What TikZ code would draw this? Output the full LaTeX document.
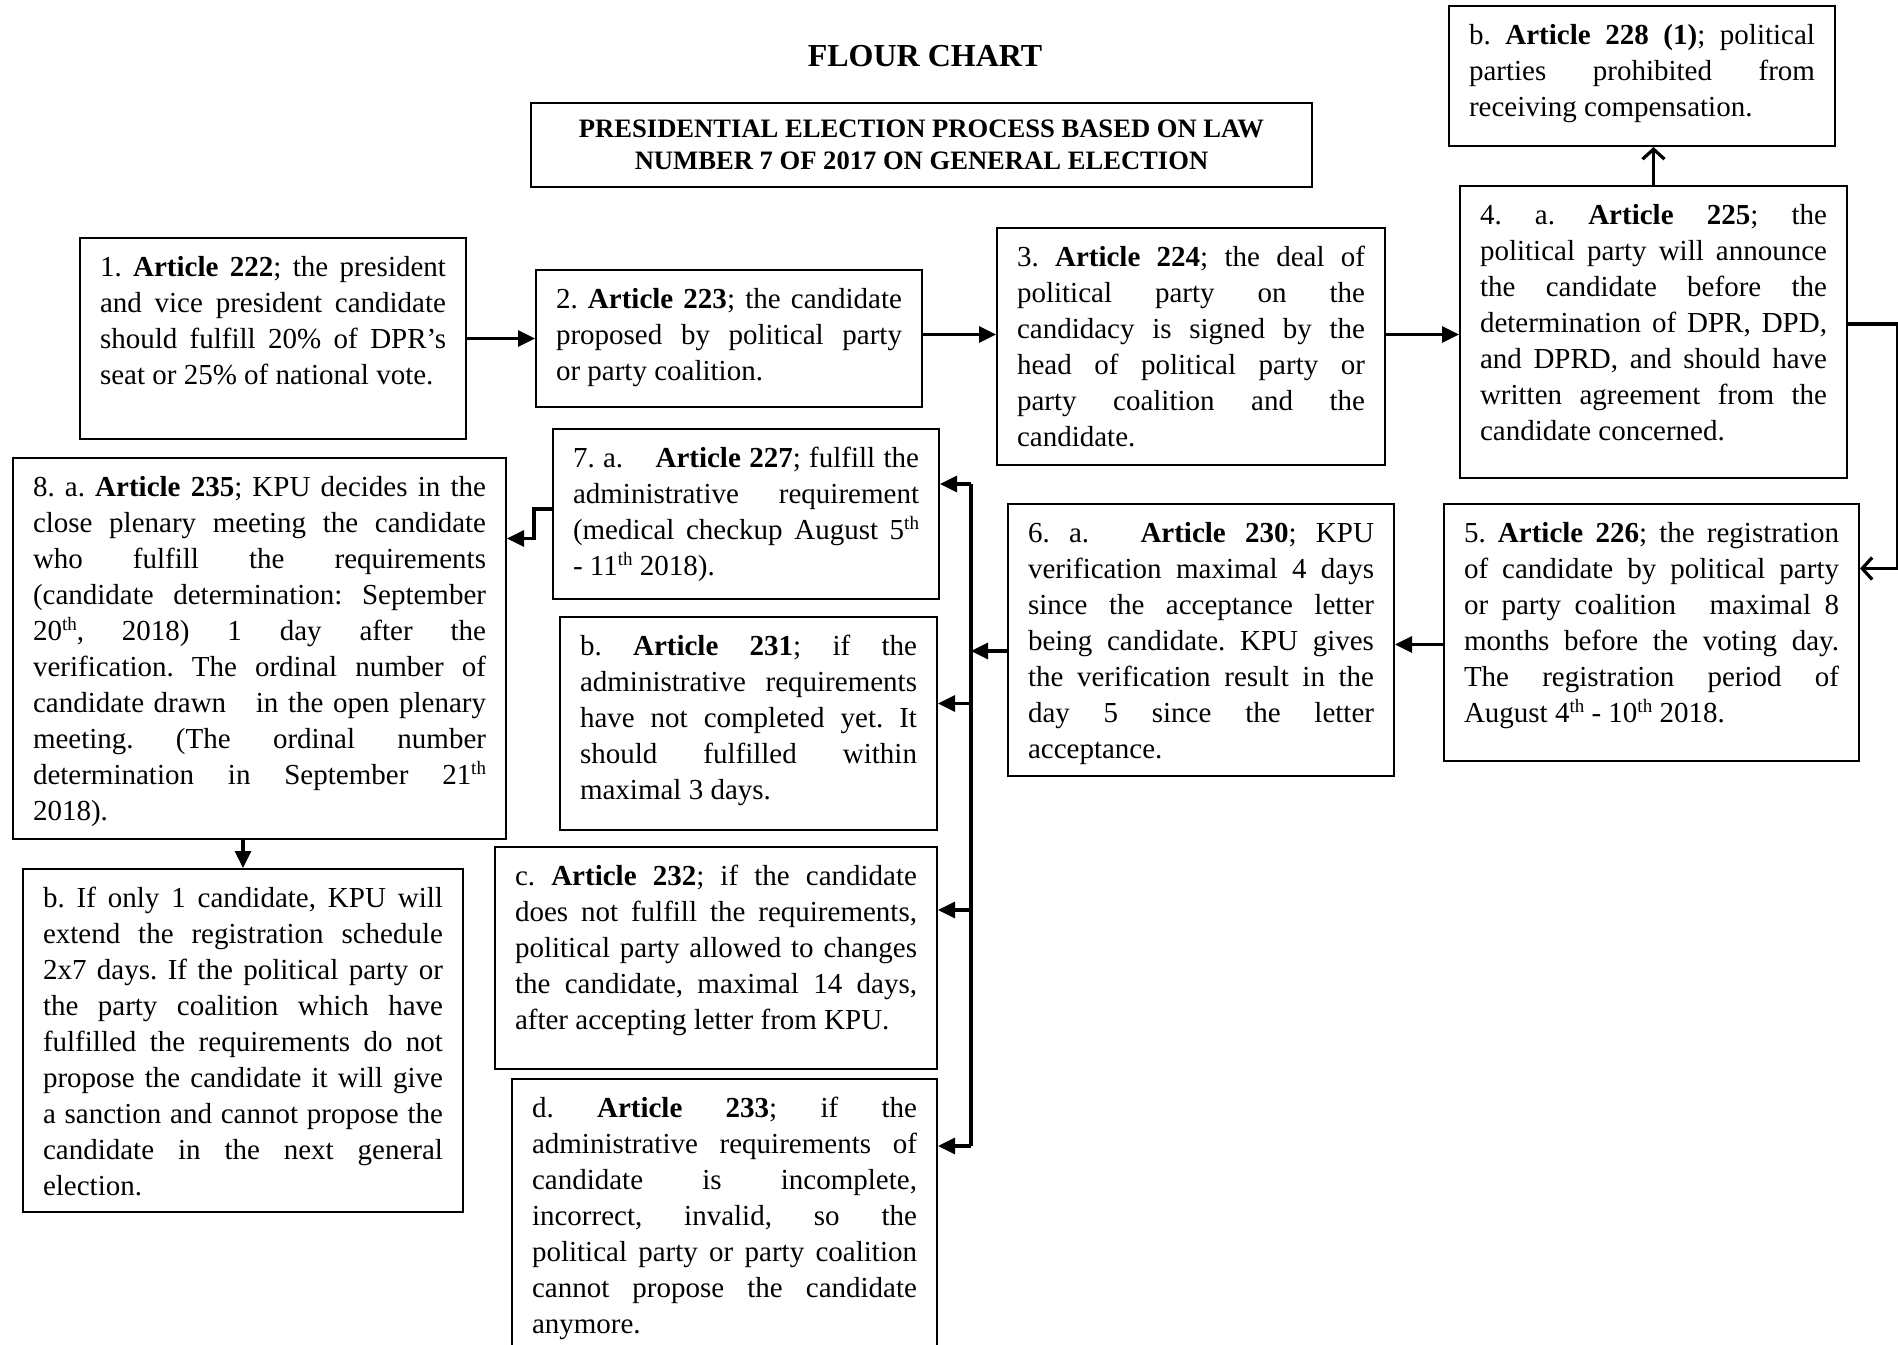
\documentclass[tikz,border=0pt]{standalone}
\usepackage{fontspec}
\setmainfont{Liberation Serif}
\usetikzlibrary{arrows.meta}
\tolerance=10000
\hbadness=10000
\frenchspacing
\newcommand{\ordsup}[1]{\raisebox{0.33em}{\fontsize{9.5}{9.5}\selectfont #1}}

\tikzstyle{article}=[draw,line width=1pt,rectangle,anchor=north west,align=justify,inner xsep=10pt,inner ysep=0pt,text height=19pt,font=\fontsize{14.5}{18}\selectfont]
\tikzstyle{lawbox}=[draw,line width=1.2pt,rectangle,align=center,minimum width=390.5pt,minimum height=42pt,font=\bfseries\fontsize{13.3}{16}\selectfont]
\tikzstyle{link}=[line width=1.6pt]
\tikzstyle{arr}=[line width=1.6pt,-{Triangle[length=8.5pt,width=8pt]}]
\tikzstyle{barb}=[line width=1.6pt,-{Straight Barb[length=5pt,width=11pt]}]

\begin{document}
\frenchspacing
\begin{tikzpicture}[x=0.5pt,y=-0.5pt]
  \useasboundingbox (0,0) rectangle (1898,1344);
  \node[font=\bfseries\fontsize{16}{19}\selectfont] (title) at (925,56) {FLOUR CHART};
  \node[lawbox] (law) at (921.5,145) {PRESIDENTIAL ELECTION PROCESS BASED ON LAW\\NUMBER 7 OF 2017 ON GENERAL ELECTION};

  \node[article,text width=173pt,text depth=81.5pt] (art222) at (79,237) {1. \textbf{Article 222}; the president\linebreak and vice president candidate\linebreak should fulfill 20\% of DPR’s\linebreak seat or 25\% of national vote.};
  \node[article,text width=173pt,text depth=49.5pt] (art223) at (535,269) {2. \textbf{Article 223}; the candidate\linebreak proposed by political party\linebreak or party coalition.};
  \node[article,text width=174pt,text depth=99.5pt] (art224) at (996,227) {3. \textbf{Article 224}; the deal of\linebreak political party on the\linebreak candidacy is signed by the\linebreak head of political party or\linebreak party coalition and the\linebreak candidate.};
  \node[article,text width=173.5pt,text depth=127pt] (art225) at (1459,185) {4. a. \textbf{Article 225}; the\linebreak political party will announce\linebreak the candidate before the\linebreak determination of DPR, DPD,\linebreak and DPRD, and should have\linebreak written agreement from the\linebreak candidate concerned.};
  \node[article,text width=173pt,text depth=51pt] (art228) at (1448,5) {b. \textbf{Article 228 (1)}; political\linebreak parties prohibited from\linebreak receiving compensation.};
  \node[article,text width=187.5pt,text depth=109.5pt] (art226) at (1443,503) {5. \textbf{Article 226}; the registration\linebreak of candidate by political party\linebreak or party coalition\hspace{10pt} maximal 8\linebreak months before the voting day.\linebreak The registration period of\linebreak August 4\ordsup{th} - 10\ordsup{th} 2018.};
  \node[article,text width=173pt,text depth=117pt] (art230) at (1007,503) {6. a.\hspace{16pt} \textbf{Article 230}; KPU\linebreak verification maximal 4 days\linebreak since the acceptance letter\linebreak being candidate. KPU gives\linebreak the verification result in the\linebreak day 5 since the letter\linebreak acceptance.};
  \node[article,text width=173pt,text depth=66pt] (art227) at (552,428) {7. a.\hspace{12pt} \textbf{Article 227}; fulfill the\linebreak administrative requirement\linebreak (medical checkup August 5\ordsup{th}\linebreak - 11\ordsup{th} 2018).};
  \node[article,text width=168.5pt,text depth=87.5pt] (art231) at (559,616) {b. \textbf{Article 231}; if the\linebreak administrative requirements\linebreak have not completed yet. It\linebreak should fulfilled within\linebreak maximal 3 days.};
  \node[article,text width=201pt,text depth=92pt] (art232) at (494,846) {c. \textbf{Article 232}; if the candidate\linebreak does not fulfill the requirements,\linebreak political party allowed to changes\linebreak the candidate, maximal 14 days,\linebreak after accepting letter from KPU.};
  \node[article,text width=192.5pt,text depth=127pt] (art233) at (511,1078) {d. \textbf{Article 233}; if the\linebreak administrative requirements of\linebreak candidate is incomplete,\linebreak incorrect, invalid, so the\linebreak political party or party coalition\linebreak cannot propose the candidate\linebreak anymore.};
  \node[article,text width=226.5pt,text depth=171.5pt] (art235) at (12,457) {8. a. \textbf{Article 235}; KPU decides in the\linebreak close plenary meeting the candidate\linebreak who fulfill the requirements\linebreak (candidate determination: September\linebreak 20\ordsup{th}, 2018) 1 day after the\linebreak verification. The ordinal number of\linebreak candidate drawn\hspace{10pt} in the open plenary\linebreak meeting. (The ordinal number\linebreak determination in September 21\ordsup{th}\linebreak 2018).};
  \node[article,text width=200pt,text depth=152.5pt] (only1) at (22,868) {b. If only 1 candidate, KPU will\linebreak extend the registration schedule\linebreak 2x7 days. If the political party or\linebreak the party coalition which have\linebreak fulfilled the requirements do not\linebreak propose the candidate it will give\linebreak a sanction and cannot propose the\linebreak candidate in the next general\linebreak election.};

  \draw[arr] (art222.east) -- (art223.west);
  \draw[arr] ([yshift=2pt]art223.east) -- ([yshift=2pt]art223.east -| art224.west);
  \draw[arr] ([yshift=6pt]art224.east) -- ([yshift=6pt]art224.east -| art225.west);
  \draw[barb] (art225.north) -- (art225.north |- art228.south);
  \draw[barb] ([yshift=4pt]art225.east) -- ++(50,0) |- ([yshift=32pt]art226.east);
  \draw[arr] ([yshift=-6pt]art226.west) -- ([yshift=-6pt]art226.west -| art230.east);
  \coordinate (bus) at (971,0);
  \draw[arr] ([yshift=-5.5pt]art230.west) -- ([yshift=-5.5pt]art230.west -| bus);
  \draw[link] ([yshift=15pt]art227.east -| bus) -- ([yshift=-34pt]art233.north east -| bus);
  \draw[arr] ([yshift=15pt]art227.east -| bus) -- ([yshift=15pt]art227.east);
  \draw[arr] ([yshift=10pt]art231.east -| bus) -- ([yshift=10pt]art231.east);
  \draw[arr] ([yshift=24pt]art232.east -| bus) -- ([yshift=24pt]art232.east);
  \draw[arr] ([yshift=-34pt]art233.north east -| bus) -- ([yshift=-34pt]art233.north east);
  \draw[arr] ([yshift=2.5pt]art227.west) -- ++(-18,0) |- ([yshift=55pt]art235.east);
  \draw[arr] (only1.north |- art235.south) -- (only1.north);
\end{tikzpicture}
\end{document}
